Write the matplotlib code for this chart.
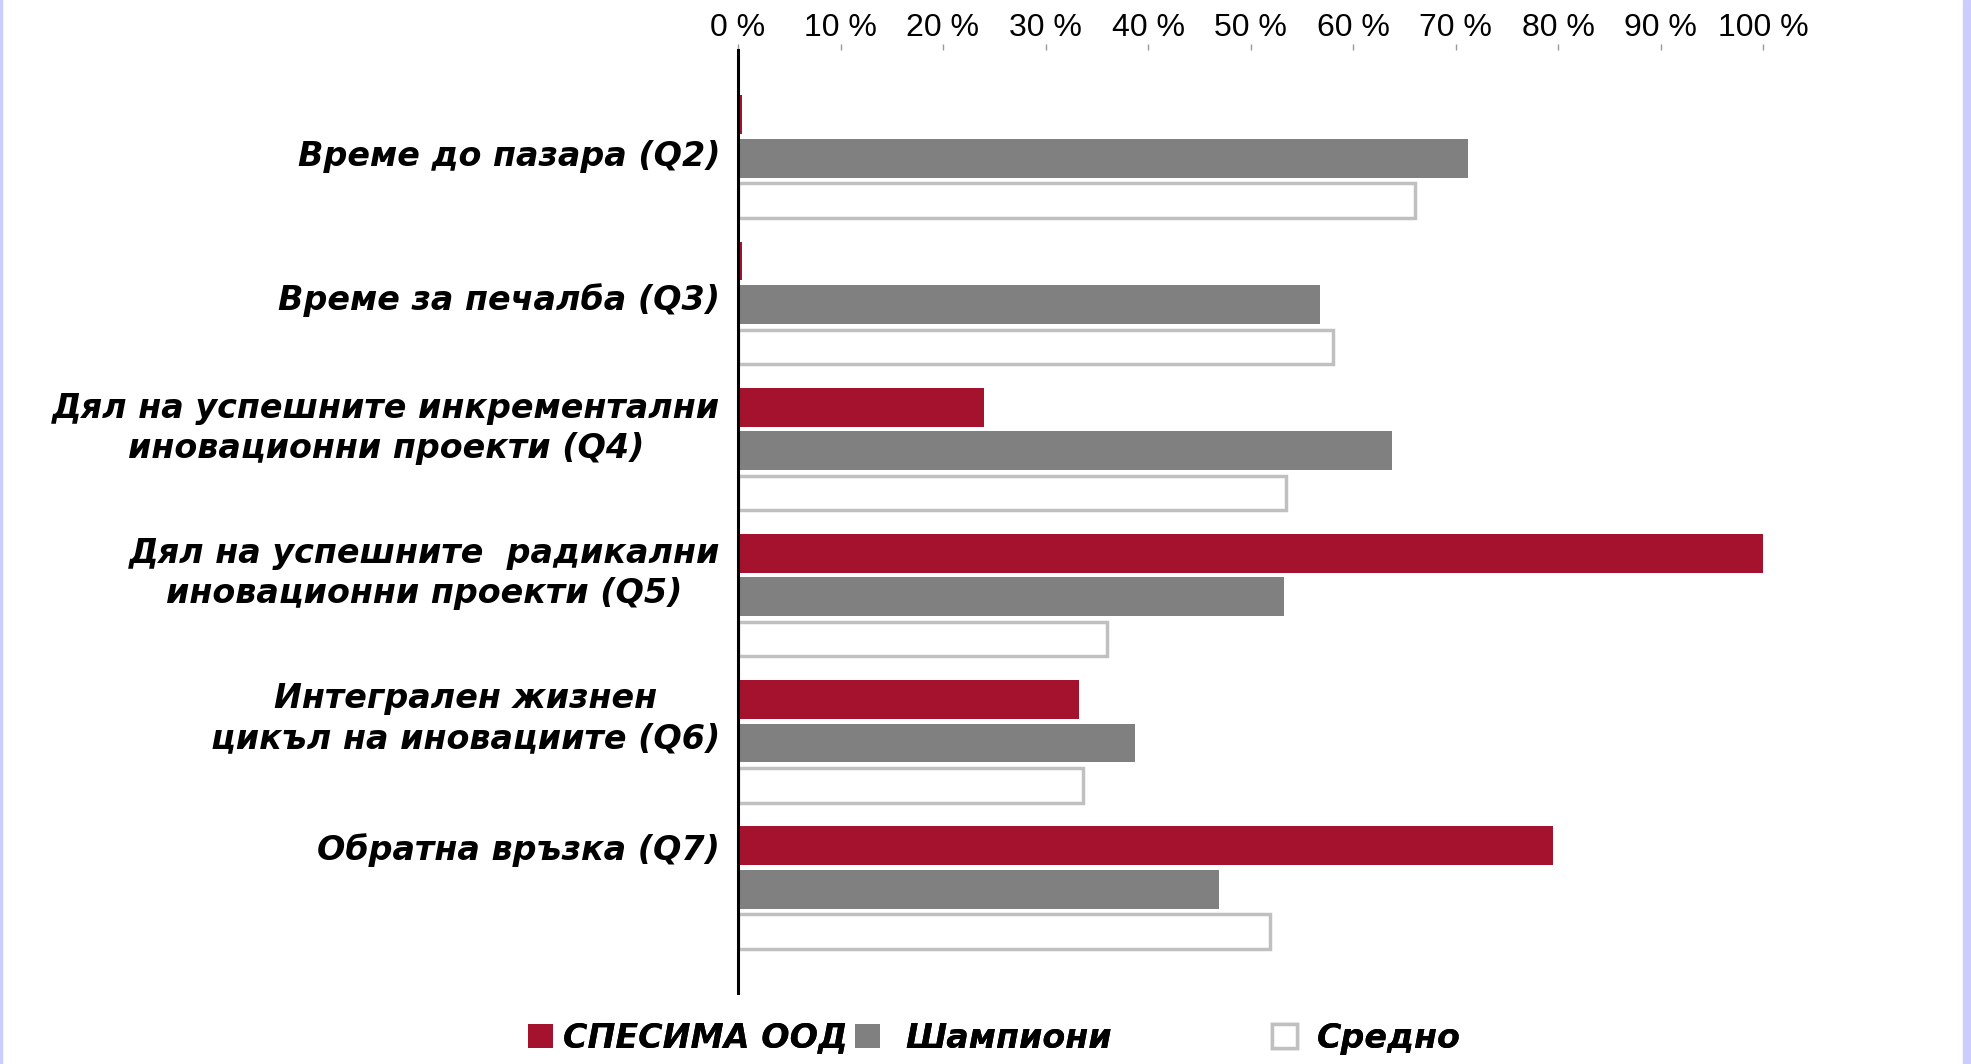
import matplotlib
matplotlib.use("Agg")
import matplotlib.pyplot as plt
from matplotlib.patches import Rectangle

categories = [
    "Време до пазара (Q2)",
    "Време за печалба (Q3)",
    "Дял на успешните инкрементални\nиновационни проекти (Q4)",
    "Дял на успешните  радикални\nиновационни проекти (Q5)",
    "Интегрален жизнен\nцикъл на иновациите (Q6)",
    "Обратна връзка (Q7)",
]
series_names = ["СПЕСИМА ООД", "Шампиони", "Средно"]
spesima = [0.4, 0.4, 24.0, 100.0, 33.3, 79.5]
champions = [71.2, 56.8, 63.8, 53.3, 38.7, 46.9]
average = [66.0, 58.0, 53.5, 36.0, 33.7, 51.9]
tick_values = [0, 10, 20, 30, 40, 50, 60, 70, 80, 90, 100]
tick_labels = ["0 %", "10 %", "20 %", "30 %", "40 %", "50 %", "60 %", "70 %", "80 %", "90 %", "100 %"]

# styling
label_offsets = [-0.01, -0.03, -0.15, -0.16, -0.17, -0.27]

RED = "#A5122E"
GRAY = "#808080"
EDGE = "#C0C0C0"

W, H = 1971, 1064
fig = plt.figure(figsize=(W / 100, H / 100), dpi=100)
fig.patch.set_facecolor("white")

# lavender frame edges
fig.patches.append(Rectangle((0, 0), 2 / W, 1, transform=fig.transFigure, color="#CCCCFF", zorder=0))
fig.patches.append(Rectangle((1 - 8 / W, 0), 8 / W, 1, transform=fig.transFigure, color="#CCCCFF", zorder=0))

ax = fig.add_axes([738 / W, 1 - 993 / H, (1763 - 738) / W, (993 - 50) / H])
ypos = list(range(len(categories)))
h = 0.265
ax.barh([y - 0.297 for y in ypos], spesima, height=h, color=RED, label=series_names[0])
ax.barh(ypos, champions, height=h, color=GRAY, label=series_names[1])
ax.barh([y + 0.29 for y in ypos], average, height=0.235, color="white", edgecolor=EDGE,
        linewidth=2.5, label=series_names[2])

ax.set_xlim(0, 100)
ax.set_ylim(5.71, -0.74)
ax.set_yticks([])
ax.xaxis.tick_top()
ax.set_xticks(tick_values)
ax.set_xticklabels(tick_labels, fontfamily="Liberation Sans", fontsize=23)
ax.tick_params(axis="x", direction="out", length=4, width=1, color="#999999", pad=1)
for s in ["top", "right", "bottom"]:
    ax.spines[s].set_visible(False)
ax.spines["left"].set_linewidth(2.2)
ax.spines["left"].set_color("black")

for y, lab, off in zip(ypos, categories, label_offsets):
    ax.annotate(lab, xy=(0, y + off), xycoords="data", xytext=(-18, 0), textcoords="offset pixels",
                ha="right", va="center", multialignment="center", fontfamily="DejaVu Sans",
                fontsize=24, fontweight="bold", fontstyle="italic", linespacing=1.28)

handles, labels = ax.get_legend_handles_labels()
leg_pos = [(528 / W, 0.0244, 0.3), (855 / W, 0.0244, 0.75), (1272 / W, 0.0244, 0.6)]
for hnd, lab, (x, y, pad) in zip(handles, labels, leg_pos):
    lg = fig.legend([hnd], [lab], loc="center left", bbox_to_anchor=(x, y), frameon=False,
                    prop={"family": "DejaVu Sans", "size": 24, "weight": "bold", "style": "italic"},
                    handlelength=0.75, handleheight=0.75, handletextpad=pad, borderpad=0,
                    borderaxespad=0)
    fig.add_artist(lg)

fig.savefig("out.png", dpi=100)
